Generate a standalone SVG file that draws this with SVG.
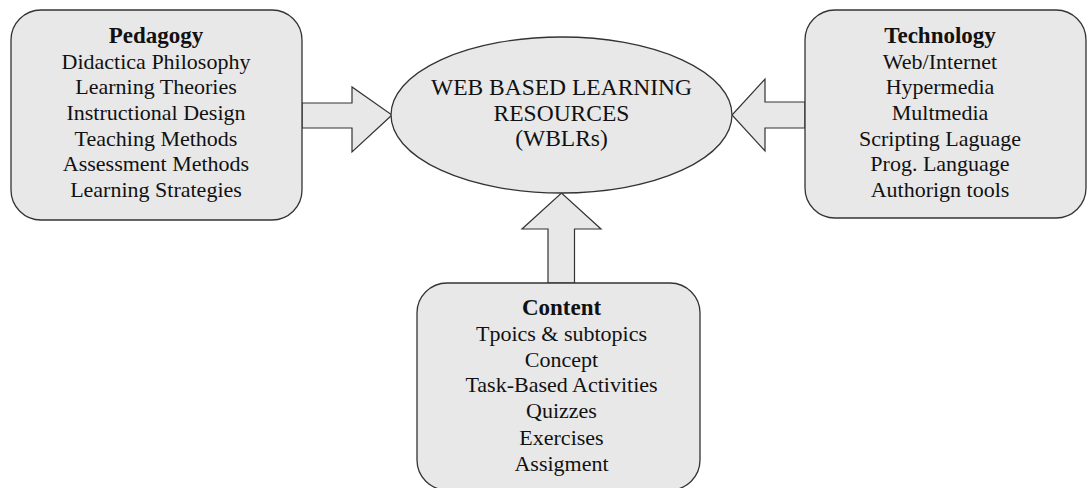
<svg xmlns="http://www.w3.org/2000/svg" width="1087" height="488" viewBox="0 0 1087 488">
<style>
.box{fill:#e8e8e8;stroke:#333;stroke-width:1.3}
.arr{fill:#e8e8e8;stroke:#333;stroke-width:1.2;stroke-linejoin:miter}
text{font-family:"Liberation Serif","Times New Roman",serif;font-size:22px;fill:#111;text-anchor:middle}
.h{font-weight:bold;font-size:23px}
.e{font-size:23.5px}
</style>
<rect width="1087" height="488" fill="#fff"/>
<g id="connectors">
<polygon class="arr" points="302,103 352,103 352,87 392,115 352,152 352,128 302,128"/>
<polygon class="arr" points="805,102 765,102 765,79 732,115 765,151 765,128 805,128"/>
<polygon class="arr" points="548,283 548,229 522,229 561.5,193 601,229 574.5,229 574.5,283"/>
</g>
<g id="pedagogy">
<rect class="box" x="11" y="10" width="291" height="210" rx="30" ry="30"/>
<text x="156" y="43" class="h">Pedagogy</text>
<text x="156" y="69">Didactica Philosophy</text>
<text x="156" y="94">Learning Theories</text>
<text x="156" y="120">Instructional Design</text>
<text x="156" y="146">Teaching Methods</text>
<text x="156" y="171">Assessment Methods</text>
<text x="156" y="197">Learning Strategies</text>
</g>
<g id="wblr">
<ellipse class="box" cx="561.5" cy="115" rx="170.5" ry="78"/>
<text x="561.5" y="95" class="e">WEB BASED LEARNING</text>
<text x="561.5" y="121" class="e">RESOURCES</text>
<text x="561.5" y="146" class="e">(WBLRs)</text>
</g>
<g id="technology">
<rect class="box" x="805" y="10" width="281" height="208" rx="30" ry="30"/>
<text x="940" y="43" class="h">Technology</text>
<text x="940" y="69">Web/Internet</text>
<text x="940" y="94">Hypermedia</text>
<text x="940" y="120">Multmedia</text>
<text x="940" y="146">Scripting Laguage</text>
<text x="940" y="171">Prog. Language</text>
<text x="940" y="197">Authorign tools</text>
</g>
<g id="content">
<rect class="box" x="417" y="283" width="283" height="207" rx="30" ry="30"/>
<text x="561.5" y="315" class="h">Content</text>
<text x="561.5" y="341">Tpoics &amp; subtopics</text>
<text x="561.5" y="367">Concept</text>
<text x="561.5" y="392">Task-Based Activities</text>
<text x="561.5" y="418">Quizzes</text>
<text x="561.5" y="445">Exercises</text>
<text x="561.5" y="471">Assigment</text>
</g>
</svg>
